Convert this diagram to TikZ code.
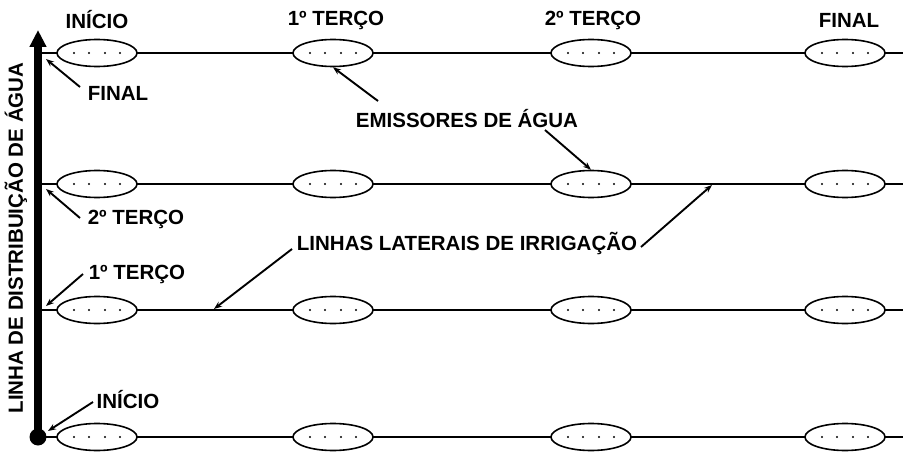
\documentclass[tikz,border=0pt]{standalone}
\usepackage{fontspec}
\setmainfont{Liberation Sans}
\usetikzlibrary{shapes.geometric,arrows.meta}
\begin{document}
\begin{tikzpicture}[x=1pt,y=-1pt,
  lbl/.style={font=\bfseries\fontsize{20.5}{24}\selectfont, inner sep=0pt, anchor=center},
  lateral/.style={line width=2.8pt},
  emitter/.style={ellipse, draw, line width=1.6pt, fill=white, minimum width=80pt, minimum height=27pt, inner sep=0pt},
  pointer/.style={line width=1.9pt, -{Stealth[length=8pt,width=6pt]}},
  dotmark/.style={circle, fill=black, inner sep=0pt, minimum size=2.4pt}
]
\useasboundingbox (0,0) rectangle (903,452);
\fill[white] (0,0) rectangle (903,452);

% junctions on the distribution line
\coordinate (j1) at (38,53);
\coordinate (j2) at (38,184);
\coordinate (j3) at (38,310);
\coordinate (j4) at (38,437);
\coordinate (e1) at (903,53);
\coordinate (e2) at (903,184);
\coordinate (e3) at (903,310);
\coordinate (e4) at (903,437);
\coordinate (top) at (38,30);

% lateral lines
\foreach \r in {1,2,3,4} {
  \draw[lateral] (j\r) -- (e\r);
}

% distribution line
\draw[line width=7.5pt, -{Triangle[width=16pt,length=17pt]}] (j4) -- (top);
\node[circle, fill=black, minimum size=17pt, inner sep=0pt] (startdot) at (j4) {};

% emitters
\foreach \r/\y in {1/53,2/184,3/310,4/437} {
  \foreach \c/\x in {1/97,2/333,3/591,4/845} {
    \node[emitter] (m\r\c) at (\x,\y) {};
    \foreach \d in {-23,-8,8,23} {
      \node[dotmark] at (\x+\d,\y) {};
    }
  }
}

% top labels
\node[lbl] (tInicio) at (97,20) {INÍCIO};
\node[lbl] (tT1) at (336,20) {1º TERÇO};
\node[lbl] (tT2) at (593,20) {2º TERÇO};
\node[lbl] (tFinal) at (849,20) {FINAL};

% vertical label
\node[lbl, rotate=90] (vlabel) at (16,238) {LINHA DE DISTRIBUIÇÃO DE ÁGUA};

% left labels
\node[lbl] (lFinal) at (118,93) {FINAL};
\node[lbl] (lT2) at (136,219) {2º TERÇO};
\node[lbl] (lT1) at (137,274) {1º TERÇO};
\node[lbl] (lInicio) at (128,400) {INÍCIO};

\coordinate (pFinal) at (46,59);
\coordinate (pT2) at (46,189);
\coordinate (pT1) at (46,306);
\coordinate (pInicio) at (48,431);
\coordinate (sFinal) at (80,87);
\coordinate (sT2) at (80,218);
\coordinate (sT1) at (83,274);
\coordinate (sInicio) at (93,402);
\draw[pointer] (sFinal) -- (pFinal);
\draw[pointer] (sT2) -- (pT2);
\draw[pointer] (sT1) -- (pT1);
\draw[pointer] (sInicio) -- (pInicio);

% emitters label
\node[lbl] (emis) at (467,119) {EMISSORES DE ÁGUA};
\coordinate (sEm1) at (378,101);
\coordinate (sEm2) at (545,130);
\draw[pointer] (sEm1) -- (m12.south);
\draw[pointer] (sEm2) -- (m23.north);

% laterals label
\node[lbl] (lat) at (467,244) {LINHAS LATERAIS DE IRRIGAÇÃO};
\coordinate (sL1) at (292,249);
\coordinate (sL2) at (641,247);
\coordinate (pL1) at (214,309);
\coordinate (pL2) at (712,185);
\draw[pointer] (sL1) -- (pL1);
\draw[pointer] (sL2) -- (pL2);
\end{tikzpicture}
\end{document}
